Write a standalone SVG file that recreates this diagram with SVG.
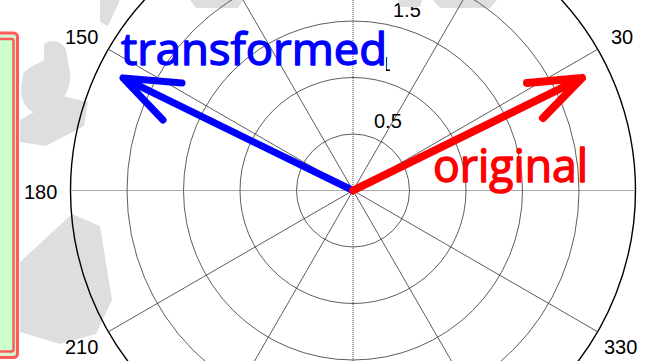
<svg xmlns="http://www.w3.org/2000/svg" width="650" height="361" viewBox="0 0 650 361">
<style>
.wm{fill:#dedede}
.ring{fill:none;stroke:#333;stroke-width:0.8}
.spoke{stroke:#333;stroke-width:0.8}
.axis{stroke:#555;stroke-width:1.1;stroke-dasharray:1 1}
.lbl{font-family:"Liberation Sans",Arial,sans-serif;font-size:20px;fill:#000}
.hand{font-family:"Open Sans","DejaVu Sans",sans-serif;stroke-width:1.4;stroke-linejoin:round}
.arr{fill:none;stroke-linecap:round;stroke-linejoin:round}
</style>
<defs>
<clipPath id="c1"><rect x="386" y="56" width="4" height="16"/></clipPath>
</defs>
<rect width="650" height="361" fill="#fff"/>
<g id="watermark">
<path class="wm" d="M44,44 C52,38 63,41 66,50 L70,72 C72,86 64,100 55,108 L38,114 C28,112 21,102 21,90 L23,74 C29,66 38,64 44,60 Z M33,80 C36,76 42,78 44,84 C45,90 40,96 35,94 C31,91 31,85 33,80 Z"/>
<path class="wm" d="M20,120 L62,96 L88,102 L84,126 L46,146 L20,142 Z"/>
<path class="wm" d="M20,262 L72,214 L100,226 L112,300 L96,334 L60,344 L20,332 Z M50,245 L64,240 L68,262 L55,268 Z M80,282 L92,280 L94,294 L82,296 Z"/>
<path class="wm" d="M100,0 L120,0 L108,26 L100,22 Z"/>
<path class="wm" d="M190,0 L243,0 L238,8 L196,8 Z"/>
<path class="wm" d="M433,0 L497,0 L490,8 L440,8 Z"/>
</g>
<g id="grid">
<circle class="ring" cx="353" cy="190.5" r="56.5"/>
<circle class="ring" cx="353" cy="190.5" r="113"/>
<circle class="ring" cx="353" cy="190.5" r="169.5"/>
<circle class="ring" cx="353" cy="190.5" r="226"/>
<circle cx="353" cy="190.5" r="282.5" fill="none" stroke="#000" stroke-width="1.4"/>
<line class="axis" x1="70.5" y1="190.5" x2="635.5" y2="190.5"/>
<line class="axis" x1="353" y1="-92" x2="353" y2="473"/>
<line class="spoke" x1="108.35" y1="49.25" x2="597.65" y2="331.75"/>
<line class="spoke" x1="597.65" y1="49.25" x2="108.35" y2="331.75"/>
<line class="spoke" x1="211.75" y1="-54.15" x2="494.25" y2="435.15"/>
<line class="spoke" x1="494.25" y1="-54.15" x2="211.75" y2="435.15"/>
</g>
<g id="labels">
<text class="lbl" x="65" y="44">150</text>
<text class="lbl" x="611" y="44">30</text>
<text class="lbl" x="24" y="199">180</text>
<text class="lbl" x="65" y="354">210</text>
<text class="lbl" x="604" y="354">330</text>
<text class="lbl" x="374" y="128">0.5</text>
<text class="lbl" x="380" y="71" clip-path="url(#c1)">1</text>
<text class="lbl" x="393" y="17">1.5</text>
<path class="wm" d="M398,0 L422,0 L420,7 L400,7 Z"/>
</g>
<g id="legendbox">
<rect x="-10" y="33" width="27.5" height="324.5" rx="4" fill="#d6f5d0" stroke="#ff5a5a" stroke-width="3"/>
<rect x="-10" y="39" width="23.5" height="312.5" rx="2" fill="#ccffcc" stroke="#ff5a5a" stroke-width="2.5"/>
</g>
<g id="connectors">
<path class="arr" stroke="#0000ff" stroke-width="7" d="M353,190.5 L123,78 M182,83 L123,78 L163,120"/>
<path class="arr" stroke="#ff0000" stroke-width="8" d="M353,190.5 L582,78 M527,83 L582,78 L543,118"/>
</g>
<g id="texts">
<text class="hand" x="121" y="65" font-size="44" fill="#0000ff" stroke="#0000ff" textLength="266" lengthAdjust="spacingAndGlyphs">transformed</text>
<text class="hand" x="433" y="182" font-size="46" fill="#ff0000" stroke="#ff0000" textLength="155" lengthAdjust="spacingAndGlyphs">original</text>
</g>
</svg>
